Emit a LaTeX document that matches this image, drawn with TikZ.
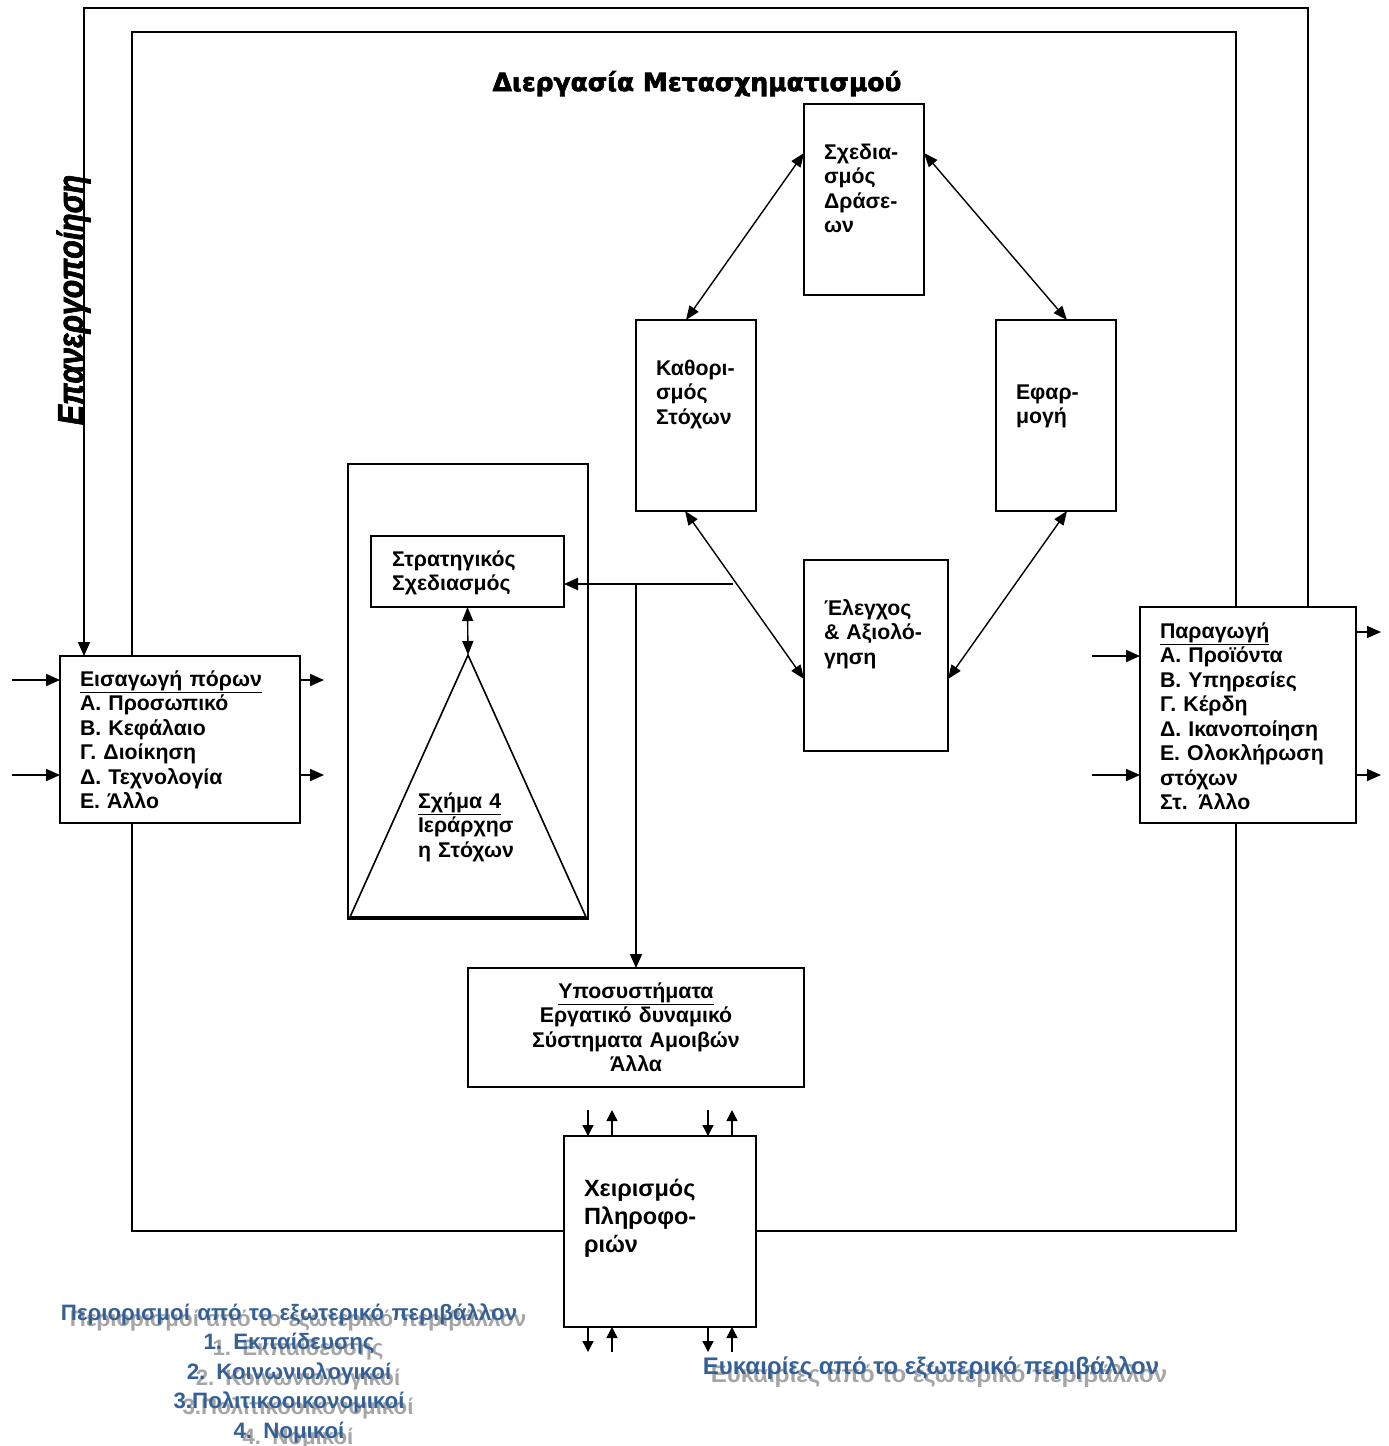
\documentclass[tikz,border=0pt]{standalone}
\usepackage{fontspec}
\usepackage{graphicx}
\setmainfont{Liberation Sans}
\newfontfamily\titlefont{DejaVu Sans}[BoldFeatures={FakeBold=2.5}]
\newfontfamily\vertfont{Liberation Sans}[BoldItalicFeatures={FakeBold=2}]
\usetikzlibrary{arrows.meta,calc}
\definecolor{envblue}{RGB}{52,96,150}
\definecolor{shadowgray}{RGB}{165,165,165}
\begin{document}
\begin{tikzpicture}[x=1pt,y=-1pt,
  box/.style={draw, line width=1.6pt, fill=white, inner sep=0pt, outer sep=0pt, anchor=north west},
  txt/.style={inner sep=0pt, outer sep=0pt, anchor=base west, align=left, text width=#1, font=\bfseries\fontsize{21.3}{24.5}\selectfont},
  txt/.default=230pt,
  arr/.style={line width=1.6pt, -{Triangle[length=14pt,width=12pt]}},
  darr/.style={line width=1.4pt, {Triangle[length=14pt,width=11pt]}-{Triangle[length=14pt,width=11pt]}},
  sarr/.style={line width=1.4pt, -{Triangle[length=11pt,width=11pt]}},
  ln/.style={line width=1.6pt},
  btxt/.style={inner sep=0pt, anchor=base, align=center, text width=560pt, font=\bfseries\fontsize{22.3}{29.5}\selectfont},
  rtxt/.style={inner sep=0pt, anchor=base, font=\bfseries\fontsize{24}{28}\selectfont}]
\useasboundingbox (0,0) rectangle (1389,1446);
% inner frame
\draw[ln] (132,32) rectangle (1236,1231);
% boxes
\node[box, minimum width=240pt, minimum height=167pt] (eis) at (60,656) {};
\node[box, minimum width=216pt, minimum height=216pt] (par) at (1140,607) {};
\node[box, minimum width=240pt, minimum height=455pt] (big) at (348,464) {};
\node[box, minimum width=193pt, minimum height=71pt] (strat) at (371,536) {};
\node[box, minimum width=120pt, minimum height=191pt] (sxed) at (804,104) {};
\node[box, minimum width=120pt, minimum height=191pt] (kath) at (636,320) {};
\node[box, minimum width=120pt, minimum height=191pt] (efar) at (996,320) {};
\node[box, minimum width=144pt, minimum height=191pt] (eleg) at (804,560) {};
\node[box, minimum width=336pt, minimum height=119pt] (ypo) at (468,968) {};
\node[box, minimum width=192pt, minimum height=191pt] (xeir) at (564,1136) {};
% triangle
\coordinate (apex) at (468,655);
\coordinate (tl) at (350,917);
\coordinate (tr) at (586,917);
\draw[ln] (apex) -- (tl) -- (tr) -- cycle;
\draw[darr] (strat.south) -- (apex);
% outer feedback frame
\coordinate (o1) at (84,8);
\coordinate (o2) at (1308,8);
\draw[arr] (o2 |- par.north) -- (o2) -- (o1) -- (o1 |- eis.north);
% cycle arrows
\draw[darr] ($(kath.north west)+(50,0)$) -- ($(sxed.north west)+(0,49)$);
\draw[darr] ($(sxed.north east)+(0,49)$) -- ($(efar.north west)+(71,0)$);
\draw[darr] ($(kath.south west)+(49,0)$) -- ($(eleg.north west)+(0,119)$);
\draw[darr] ($(efar.south west)+(71,0)$) -- ($(eleg.north east)+(0,119)$);
% strategic link
\coordinate (hs) at (733,584);
\coordinate (jn) at (636,584);
\draw[arr] (hs) -- (hs -| strat.east);
\draw[arr] (jn) -- (jn |- ypo.north);
% inputs / outputs
\coordinate (inA) at (12,680);
\coordinate (inB) at (12,775);
\coordinate (outA) at (324,680);
\coordinate (outB) at (324,775);
\draw[arr] (inA) -- (inA -| eis.west);
\draw[arr] (inB) -- (inB -| eis.west);
\draw[arr] (outA -| eis.east) -- (outA);
\draw[arr] (outB -| eis.east) -- (outB);
\coordinate (pinA) at (1092,656);
\coordinate (pinB) at (1092,775);
\coordinate (poutA) at (1381,632);
\coordinate (poutB) at (1381,775);
\draw[arr] (pinA) -- (pinA -| par.west);
\draw[arr] (pinB) -- (pinB -| par.west);
\draw[arr] (poutA -| par.east) -- (poutA);
\draw[arr] (poutB -| par.east) -- (poutB);
% small arrows at information handling
\foreach \dx in {24,144}{
  \draw[sarr] ($(xeir.north west)+(\dx,-26)$) -- ($(xeir.north west)+(\dx,0)$);
  \draw[sarr] ($(xeir.south west)+(\dx,0)$) -- ($(xeir.south west)+(\dx,25)$);
}
\foreach \dx in {48,168}{
  \draw[sarr] ($(xeir.north west)+(\dx,0)$) -- ($(xeir.north west)+(\dx,-26)$);
  \draw[sarr] ($(xeir.south west)+(\dx,25)$) -- ($(xeir.south west)+(\dx,0)$);
}
% texts
\node[txt] (teis) at (80,686) {\underline{Εισαγωγή πόρων}\\Α. Προσωπικό\\Β. Κεφάλαιο\\Γ. Διοίκηση\\Δ. Τεχνολογία\\Ε. Άλλο};
\node[txt=195pt] (tpar) at (1160,638) {\underline{Παραγωγή}\\Α. Προϊόντα\\Β. Υπηρεσίες\\Γ. Κέρδη\\Δ. Ικανοποίηση\\Ε. Ολοκλήρωση\\στόχων\\Στ. Άλλο};
\node[txt=170pt] (tstrat) at (392,566) {Στρατηγικός\\Σχεδιασμός};
\node[txt=160pt] (ttri) at (418,808) {\underline{Σχήμα 4}\\Ιεράρχησ\\η Στόχων};
\node[txt=100pt] (tsxed) at (824,159) {Σχεδια-\\σμός\\Δράσε-\\ων};
\node[txt=100pt] (tkath) at (656,375) {Καθορι-\\σμός\\Στόχων};
\node[txt=100pt] (tefar) at (1016,399) {Εφαρ-\\μογή};
\node[txt=120pt] (televg) at (824,615) {Έλεγχος\\\& Αξιολό-\\γηση};
\node[txt=336pt, align=center, anchor=base] (typo) at (636,998) {\underline{Υποσυστήματα}\\Εργατικό δυναμικό\\Σύστηματα Αμοιβών\\Άλλα};
\node[txt=170pt, font=\bfseries\fontsize{23.5}{28}\selectfont] (txeir) at (584,1196) {Χειρισμός\\Πληροφο-\\ριών};
% title
\node[inner sep=0pt, anchor=base, font=\titlefont\bfseries\fontsize{25}{25}\selectfont] (title) at (697,91) {Διεργασία Μετασχηματισμού};
% vertical label
\node[inner sep=0pt, rotate=90, anchor=base, font=\vertfont\bfseries\itshape\fontsize{36}{36}\selectfont] (vert) at (83,300) {\scalebox{0.84}[1]{Επανεργοποίηση}};
% environment texts
\node[btxt, text=shadowgray] (shL) at (298,1326) {Περιορισμοί από το εξωτερικό περιβάλλον\\1. Εκπαίδευσης\\2. Κοινωνιολογικοί\\3.Πολιτικοοικονομικοί\\4. Νομικοί};
\node[btxt, text=envblue] (envL) at (289,1320) {Περιορισμοί από το εξωτερικό περιβάλλον\\1. Εκπαίδευσης\\2. Κοινωνιολογικοί\\3.Πολιτικοοικονομικοί\\4. Νομικοί};
\node[rtxt, text=shadowgray] (shR) at (939,1382) {Ευκαιρίες από το εξωτερικό περιβάλλον};
\node[rtxt, text=envblue] (envR) at (931,1374) {Ευκαιρίες από το εξωτερικό περιβάλλον};
\end{tikzpicture}
\end{document}
